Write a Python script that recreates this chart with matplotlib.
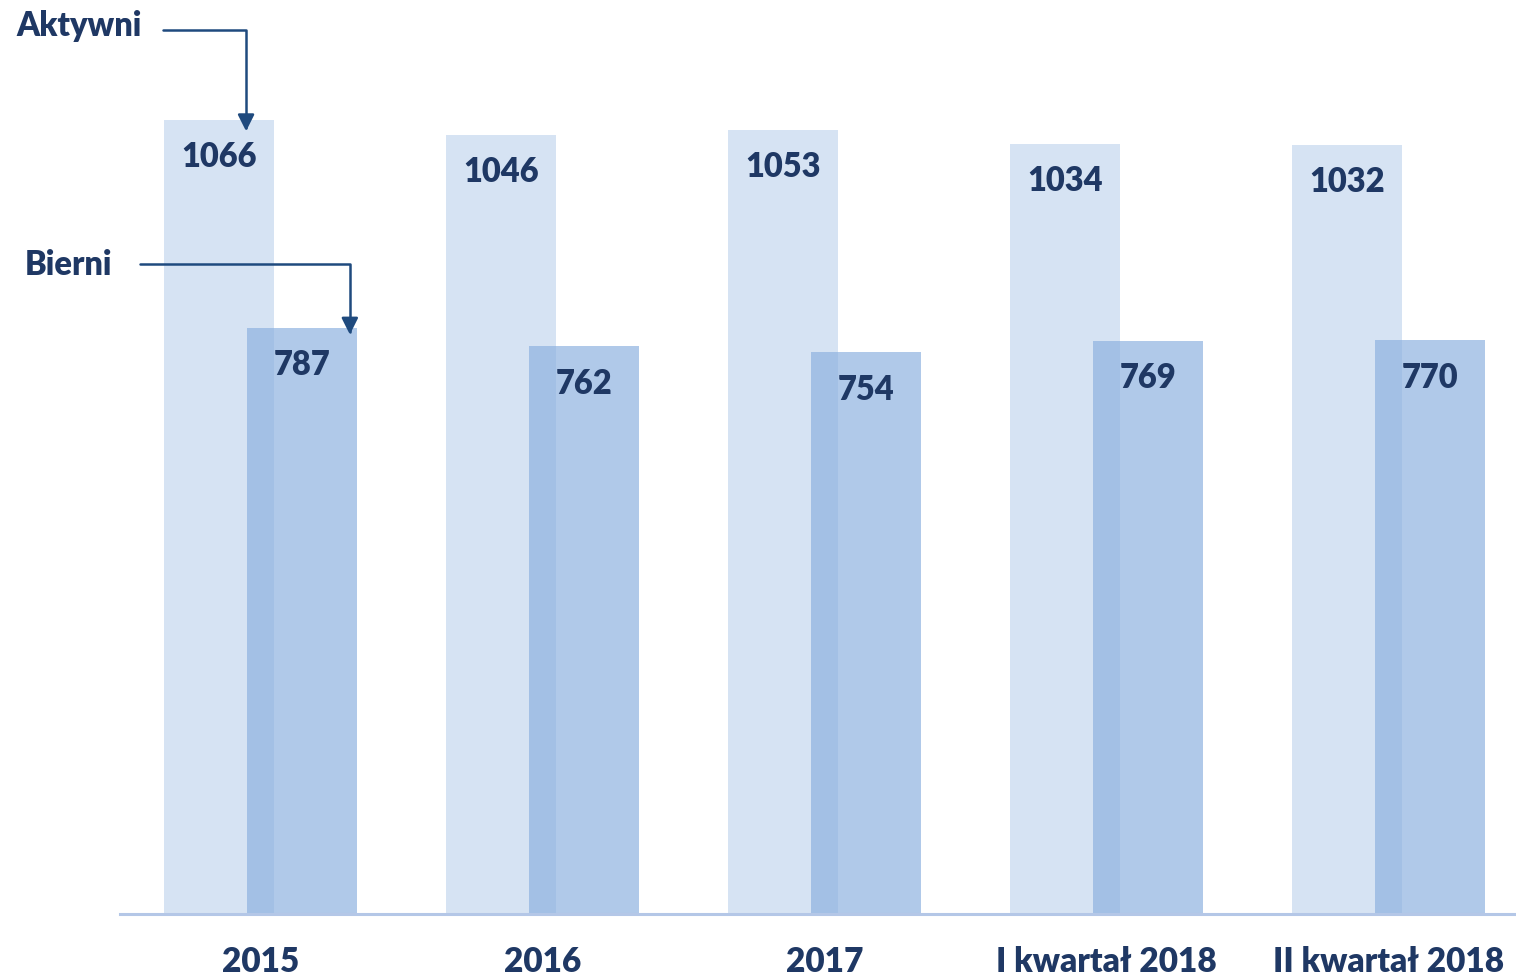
import matplotlib
matplotlib.use("Agg")
import matplotlib.pyplot as plt
import numpy as np

# Dane
kategorie = ["2015", "2016", "2017", "I kwartał 2018", "II kwartał 2018"]
aktywni = [1066, 1046, 1053, 1034, 1032]
bierni = [787, 762, 754, 769, 770]

plt.rcParams['font.family'] = ['Lato', 'DejaVu Sans']
kolor_tekstu = "#1f3864"
kolor_strzalki = "#1f4a7e"
waga = "heavy"
rozmiar = 23.5

fig = plt.figure(figsize=(15.16, 9.79), dpi=100)
ax = fig.add_axes([120 / 1516, 64 / 979, 1 - 120 / 1516, 1 - 64 / 979])

x = np.arange(len(kategorie))
szer = 0.39
przes = 0.147

ax.bar(x - przes, aktywni, width=szer, color="#d6e3f3", zorder=1)
ax.bar(x + przes, bierni, width=szer, color="#8bb0df", alpha=0.68, zorder=2)

# Etykiety wartości
for xi, v in zip(x - przes, aktywni):
    ax.annotate(str(v), (xi, v), xytext=(0, -26), textcoords="offset points",
                ha="center", va="center", fontsize=rozmiar, fontweight=waga,
                color=kolor_tekstu, zorder=5)
for xi, v in zip(x + przes, bierni):
    ax.annotate(str(v), (xi, v), xytext=(0, -26), textcoords="offset points",
                ha="center", va="center", fontsize=rozmiar, fontweight=waga,
                color=kolor_tekstu, zorder=5)

ax.set_xlim(-0.498, 4.452)
ax.set_ylim(0, 1228.5)

# Oś
for s in ["top", "right", "left"]:
    ax.spines[s].set_visible(False)
ax.spines["bottom"].set_color("#b4c7e7")
ax.spines["bottom"].set_linewidth(2.2)
ax.set_yticks([])
ax.set_xticks(x)
ax.set_xticklabels(kategorie, fontsize=24, fontweight=waga, color=kolor_tekstu)
ax.tick_params(axis="x", length=0, pad=22)

# Opisy serii ze strzałkami
fig.text(16, 979 - 26, "Aktywni", transform=None, fontsize=rozmiar, fontweight=waga,
         color=kolor_tekstu, ha="left", va="center")
fig.text(25, 979 - 265, "Bierni", transform=None, fontsize=rozmiar, fontweight=waga,
         color=kolor_tekstu, ha="left", va="center")

styl = "-|>,head_length=1.0,head_width=0.5"
ax.annotate("", xy=(x[0] - przes + 0.096, aktywni[0] - 15), xycoords="data",
            xytext=(163, 979 - 31), textcoords="figure pixels",
            arrowprops=dict(arrowstyle=styl,
                            connectionstyle="angle,angleA=0,angleB=90,rad=0",
                            color=kolor_strzalki, lw=1.8, shrinkA=0, shrinkB=0),
            zorder=6)
ax.annotate("", xy=(x[0] + przes + 0.17, bierni[0] - 9), xycoords="data",
            xytext=(140, 979 - 265), textcoords="figure pixels",
            arrowprops=dict(arrowstyle=styl,
                            connectionstyle="angle,angleA=0,angleB=90,rad=0",
                            color=kolor_strzalki, lw=1.8, shrinkA=0, shrinkB=0),
            zorder=6)

fig.savefig("out.png", dpi=100)
